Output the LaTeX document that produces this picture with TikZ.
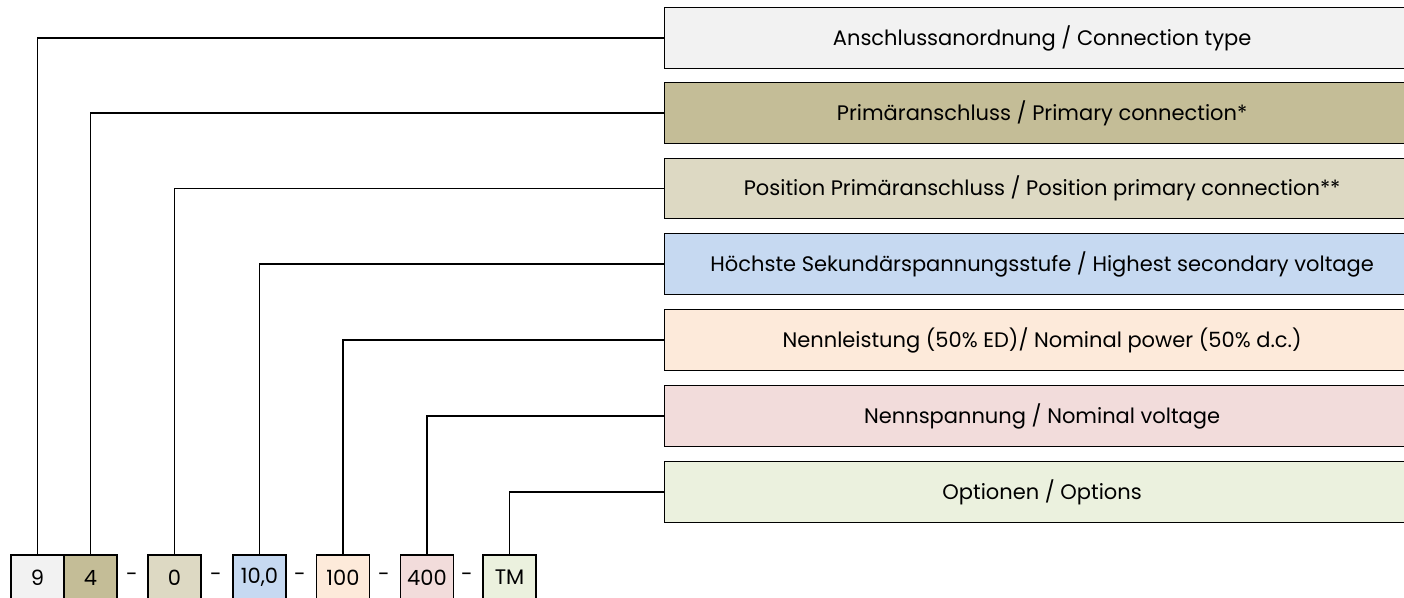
\documentclass[tikz,border=0pt]{standalone}
\usepackage{fontspec}
\setmainfont{Poppins}
\definecolor{cA}{HTML}{F2F2F2}
\definecolor{cB}{HTML}{C4BD97}
\definecolor{cC}{HTML}{DDD9C3}
\definecolor{cD}{HTML}{C6D9F1}
\definecolor{cE}{HTML}{FDEADA}
\definecolor{cF}{HTML}{F2DCDB}
\definecolor{cG}{HTML}{EBF1DE}
\tikzset{
  label box/.style={draw=black, line width=1.2pt, anchor=west, minimum width=755pt, minimum height=60.5pt, inner sep=0pt, font=\fontsize{21}{25}\selectfont},
  code box/.style={draw=black, line width=1.2pt, minimum width=53pt, minimum height=45pt, inner sep=0pt, font=\fontsize{21}{25}\selectfont},
  sep/.style={inner sep=0pt, font=\fontsize{21}{25}\selectfont},
  conn/.style={draw=black, line width=1.2pt}
}
\begin{document}
\begin{tikzpicture}[x=1pt, y=-1pt]
\useasboundingbox (0,0) rectangle (1404,597);
\clip (0,0) rectangle (1404,597);
\node[label box, fill=cA] (b1) at (664,38) {Anschlussanordnung / Connection type};
\node[label box, fill=cB] (b2) at (664,113) {Primäranschluss / Primary connection*};
\node[label box, fill=cC] (b3) at (664,188.5) {Position Primäranschluss / Position primary connection**};
\node[label box, fill=cD] (b4) at (664,264) {Höchste Sekundärspannungsstufe / Highest secondary voltage};
\node[label box, fill=cE] (b5) at (664,340) {Nennleistung (50\% ED)/ Nominal power (50\% d.c.)};
\node[label box, fill=cF] (b6) at (664,416) {Nennspannung / Nominal voltage};
\node[label box, fill=cG] (b7) at (664,492) {Optionen / Options};
\node[code box, fill=cA] (s1) at (37.5,577.5) {9};
\node[code box, fill=cB] (s2) at (90.5,577.5) {4};
\node[code box, fill=cC] (s3) at (174.5,577.5) {0};
\node[code box, fill=cD] (s4) at (259.5,577.5) {10,0};
\node[code box, fill=cE] (s5) at (343,577.5) {100};
\node[code box, fill=cF] (s6) at (427,577.5) {400};
\node[code box, fill=cG] (s7) at (509.5,577.5) {TM};
\node[sep] (d1) at (132,577) {-};
\node[sep] (d2) at (216,577) {-};
\node[sep] (d3) at (300,577) {-};
\node[sep] (d4) at (384,577) {-};
\node[sep] (d5) at (467,577) {-};
\draw[conn] (b1.west) -| (s1.north);
\draw[conn] (b2.west) -| (s2.north);
\draw[conn] (b3.west) -| (s3.north);
\draw[conn] (b4.west) -| (s4.north);
\draw[conn] (b5.west) -| (s5.north);
\draw[conn] (b6.west) -| (s6.north);
\draw[conn] (b7.west) -| (s7.north);
\end{tikzpicture}
\end{document}
